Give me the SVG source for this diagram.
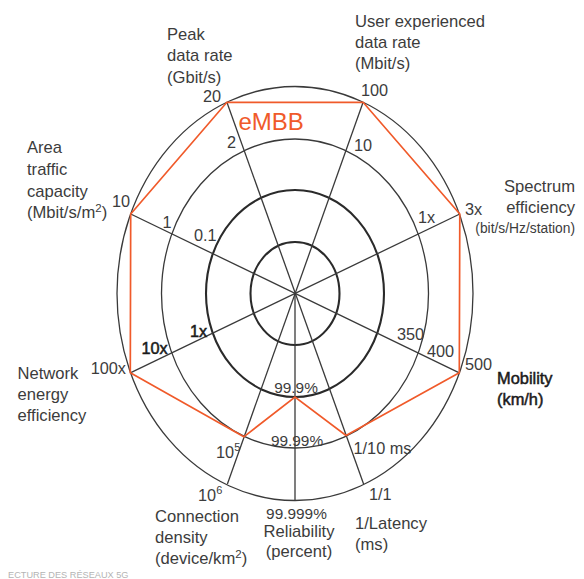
<svg xmlns="http://www.w3.org/2000/svg" width="584" height="579" viewBox="0 0 584 579">
<style>
  .ring { fill: none; stroke: #3a3a3a; }
  .thin { stroke-width: 1.3; }
  .thick { stroke-width: 2.1; stroke: #2a2a2a; }
  .spoke { stroke: #3a3a3a; stroke-width: 1.3; fill: none; }
  .embb { fill: none; stroke: #f05a2a; stroke-width: 1.7; stroke-linejoin: miter; }
  text { font-family: "Liberation Sans", Arial, sans-serif; fill: #3c3c3c; }
  .lbl { font-size: 16.6px; }
  .val { font-size: 16.3px; }
  .pct { font-size: 15.4px; }
  .sm { font-size: 13.8px; }
  .dark { fill: #1a1a1a; stroke: #1a1a1a; stroke-width: 0.5; }
</style>
<rect width="584" height="579" fill="#ffffff"/>

<g id="rings">
  <ellipse class="ring thin" cx="295" cy="293.5" rx="178" ry="207"/>
  <ellipse class="ring thin" cx="295" cy="293.5" rx="133.5" ry="154.5"/>
  <ellipse class="ring thick" cx="295" cy="293.5" rx="89" ry="103.5"/>
  <ellipse class="ring thick" cx="295" cy="293.5" rx="44.5" ry="51.5"/>
</g>

<g id="connectors">
  <line class="spoke" x1="226.9" y1="102.3" x2="363.6" y2="484"/>
  <line class="spoke" x1="363.1" y1="102.3" x2="227.4" y2="484"/>
  <line class="spoke" x1="459.8" y1="214" x2="130.3" y2="372.8"/>
  <line class="spoke" x1="459.3" y1="372.8" x2="130.7" y2="214"/>
  <line class="spoke" x1="295" y1="293.5" x2="295" y2="500.5"/>
</g>

<g id="embb">
  <polygon class="embb" points="226.9,102.3 363.1,102.3 459.8,214 459.3,372.8 346,435.5 295,397 243.8,436.8 130.3,372.8 130.7,214"/>
  <text x="238.5" y="129.5" style="font-size:24px;fill:#f05a2a">eMBB</text>
</g>

<g id="axis-peak">
  <text class="lbl" x="167" y="39.5">Peak</text>
  <text class="lbl" x="167" y="61">data rate</text>
  <text class="lbl" x="167" y="82.5">(Gbit/s)</text>
  <text class="val" x="221" y="102" text-anchor="end">20</text>
  <text class="val" x="227" y="148">2</text>
</g>

<g id="axis-user">
  <text class="lbl" x="355" y="26.5">User experienced</text>
  <text class="lbl" x="355" y="47.5">data rate</text>
  <text class="lbl" x="355" y="68.5">(Mbit/s)</text>
  <text class="val" x="361" y="96">100</text>
  <text class="val" x="354" y="151">10</text>
</g>

<g id="axis-spectrum">
  <text class="lbl" x="575" y="192" text-anchor="end">Spectrum</text>
  <text class="lbl" x="575" y="213.3" text-anchor="end">efficiency</text>
  <text class="sm" x="575" y="233.3" text-anchor="end">(bit/s/Hz/station)</text>
  <text class="val" x="465" y="215">3x</text>
  <text class="val" x="418" y="223">1x</text>
</g>

<g id="axis-mobility">
  <text class="dark" x="497" y="383.5" style="font-size:16.4px">Mobility</text>
  <text class="dark" x="497" y="405" style="font-size:16.4px">(km/h)</text>
  <text class="val" x="465" y="370">500</text>
  <text class="val" x="427" y="357">400</text>
  <text class="val" x="397" y="340">350</text>
</g>

<g id="axis-latency">
  <text class="val" x="353.5" y="453.5">1/10 ms</text>
  <text class="val" x="369" y="500">1/1</text>
  <text class="lbl" x="355" y="528.5">1/Latency</text>
  <text class="lbl" x="355" y="550">(ms)</text>
</g>

<g id="axis-reliability">
  <text class="pct" x="296" y="393" text-anchor="middle">99.9%</text>
  <text class="pct" x="297" y="446" text-anchor="middle">99.99%</text>
  <text class="pct" x="296.5" y="518.5" text-anchor="middle">99.999%</text>
  <text class="lbl" x="299" y="536.5" text-anchor="middle">Reliability</text>
  <text class="lbl" x="299" y="556.5" text-anchor="middle">(percent)</text>
</g>

<g id="axis-connection">
  <text class="val" x="198" y="500.5">10<tspan font-size="11" dy="-6.5">6</tspan></text>
  <text class="val" x="216" y="457.5">10<tspan font-size="11" dy="-6.5">5</tspan></text>
  <text class="lbl" x="155" y="522">Connection</text>
  <text class="lbl" x="155" y="543">density</text>
  <text class="lbl" x="155" y="564">(device/km<tspan font-size="11.5" dy="-6">2</tspan><tspan dy="6">)</tspan></text>
</g>

<g id="axis-energy">
  <text class="lbl" x="17.5" y="378.5">Network</text>
  <text class="lbl" x="17.5" y="399.5">energy</text>
  <text class="lbl" x="17.5" y="420.5">efficiency</text>
  <text class="val" x="126" y="373.5" text-anchor="end">100x</text>
  <text class="val dark" x="141.5" y="354" style="font-size:16.3px">10x</text>
  <text class="val dark" x="190" y="336.5" style="font-size:16.3px">1x</text>
</g>

<g id="axis-area">
  <text class="lbl" x="27" y="153">Area</text>
  <text class="lbl" x="27" y="174.5">traffic</text>
  <text class="lbl" x="27" y="196.5">capacity</text>
  <text class="lbl" x="27" y="218">(Mbit/s/m<tspan font-size="11.5" dy="-6">2</tspan><tspan dy="6">)</tspan></text>
  <text class="val" x="112" y="207">10</text>
  <text class="val" x="162.5" y="228">1</text>
  <text class="val" x="194" y="241">0.1</text>
</g>

<text x="8" y="577.5" style="font-size:9.2px;fill:#b4b4b4">ECTURE DES RÉSEAUX 5G</text>
</svg>
